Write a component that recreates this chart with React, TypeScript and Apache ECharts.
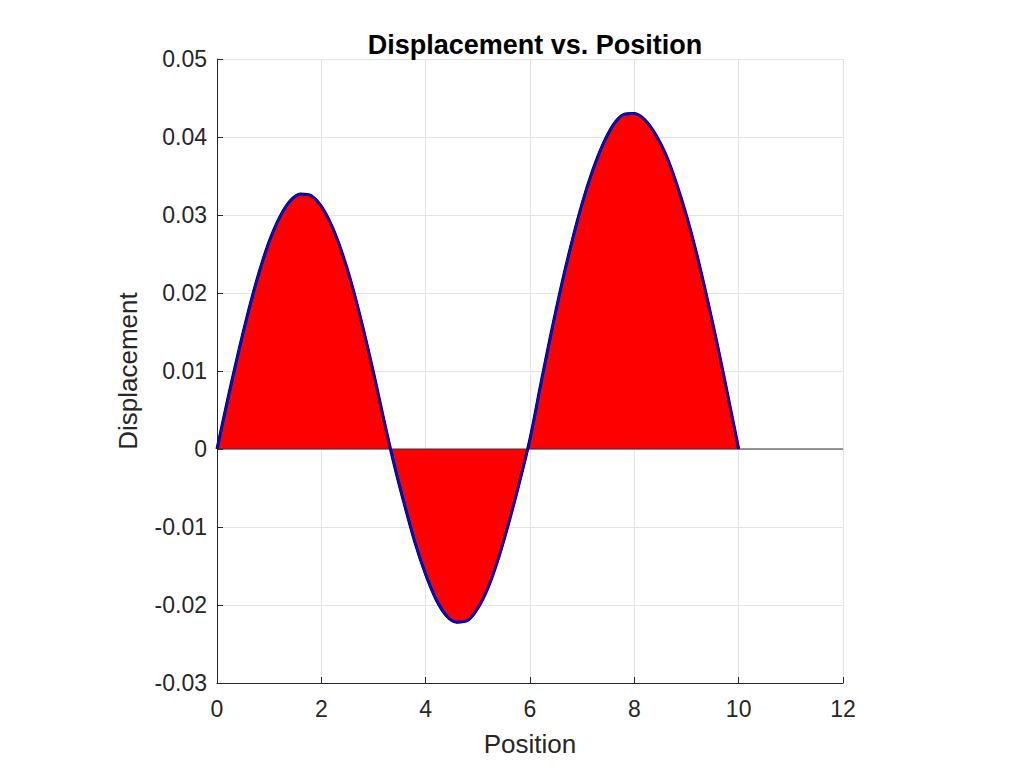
import React, { useEffect, useRef } from "react";
import * as echarts from "echarts";

const positions = [
  0, 0.2, 0.4, 0.6, 0.8, 1.0, 1.2, 1.4, 1.6, 1.8, 2.0, 2.2, 2.4, 2.6, 2.8, 3.0, 3.2,
  3.4, 3.6, 3.8, 4.0, 4.2, 4.4, 4.6, 4.8, 5.0, 5.2, 5.4, 5.6, 5.8,
  6.0, 6.2, 6.4, 6.6, 6.8, 7.0, 7.2, 7.4, 7.6, 7.8, 8.0, 8.2, 8.4, 8.6, 8.8, 9.0, 9.2, 9.4, 9.6, 9.8, 10.0,
];
const displacement = [
  0, 0.0062, 0.0121, 0.0176, 0.0225, 0.0266, 0.0297, 0.0318, 0.0327, 0.0325, 0.0311, 0.0286, 0.0251, 0.0207, 0.0155, 0.0098, 0.0037,
  -0.0021, -0.0073, -0.0121, -0.0161, -0.0193, -0.0214, -0.0222, -0.0220, -0.0204, -0.0177, -0.0139, -0.0093, -0.0042,
  0.0013, 0.0081, 0.0147, 0.0209, 0.0265, 0.0315, 0.0357, 0.0391, 0.0416, 0.0429, 0.0430, 0.0422, 0.0404, 0.0378, 0.0342, 0.0299, 0.0249, 0.0192, 0.0131, 0.0066, 0,
];
const zeroLineX = [0, 12];

const FONT = "Liberation Sans";
const AXIS = "#262626";

export default function App() {
  const ref = useRef<HTMLDivElement>(null);
  useEffect(() => {
    if (!ref.current) return;
    const chart = echarts.init(ref.current, undefined, { renderer: "svg" });
    const pts = positions.map((x, i) => [x, displacement[i]]);
    chart.setOption({
      animation: false,
      backgroundColor: "#ffffff",
      title: {
        text: "Displacement vs. Position",
        left: 530,
        textAlign: "center",
        top: 26,
        textStyle: { fontFamily: FONT, fontSize: 27, fontWeight: "bold", color: "#000" },
      },
      grid: { left: 217, right: 181, top: 59, bottom: 85 },
      xAxis: {
        type: "value",
        min: 0,
        max: 12,
        interval: 2,
        name: "Position",
        nameLocation: "middle",
        nameGap: 48,
        nameTextStyle: { fontFamily: FONT, fontSize: 26, color: AXIS },
        axisLine: { show: true, onZero: false, lineStyle: { color: AXIS, width: 1 } },
        axisTick: { show: true, inside: true, length: 6, lineStyle: { color: AXIS } },
        axisLabel: { fontFamily: FONT, fontSize: 23, color: AXIS, margin: 14 },
        splitLine: { show: true, lineStyle: { color: "#e3e3e3", width: 1 } },
      },
      yAxis: {
        type: "value",
        min: -0.03,
        max: 0.05,
        interval: 0.01,
        name: "Displacement",
        nameLocation: "middle",
        nameGap: 76,
        nameTextStyle: { fontFamily: FONT, fontSize: 26, color: AXIS },
        axisLine: { show: true, onZero: false, lineStyle: { color: AXIS, width: 1 } },
        axisTick: { show: true, inside: true, length: 6, lineStyle: { color: AXIS } },
        axisLabel: {
          fontFamily: FONT,
          fontSize: 23,
          color: AXIS,
          margin: 10,
          formatter: (v: number) => {
            const r = Math.round(v * 100) / 100;
            return r === 0 ? "0" : r.toFixed(2);
          },
        },
        splitLine: { show: true, lineStyle: { color: "#e3e3e3", width: 1 } },
      },
      series: [
        {
          type: "line",
          data: pts,
          smooth: 0.3,
          showSymbol: false,
          symbol: "none",
          lineStyle: { color: "#000000", width: 3 },
          areaStyle: { color: "#ff0000", opacity: 1, origin: 0 },
          z: 2,
        },
        {
          type: "line",
          data: zeroLineX.map((x) => [x, 0]),
          showSymbol: false,
          symbol: "none",
          lineStyle: { color: "#333333", width: 1 },
          z: 3,
        },
        {
          type: "line",
          data: pts,
          smooth: 0.3,
          showSymbol: false,
          symbol: "none",
          lineStyle: { color: "#0000ff", width: 2 },
          z: 4,
        },
      ],
    });
    return () => chart.dispose();
  }, []);
  return (
    <div
      ref={ref}
      style={{ position: "fixed", left: 0, top: 0, width: 1024, height: 768 }}
    />
  );
}
